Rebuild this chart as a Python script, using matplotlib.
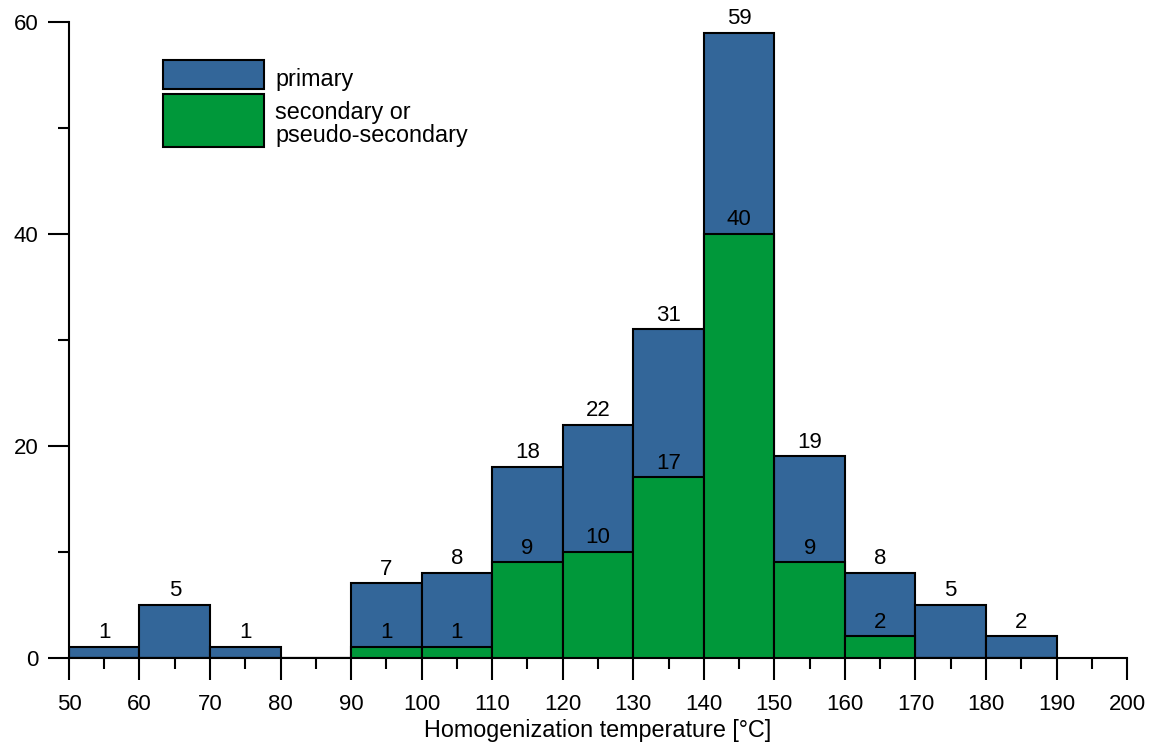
import matplotlib.pyplot as plt
import numpy as np
from matplotlib.patches import Rectangle
from matplotlib.ticker import MultipleLocator

plt.rcParams["font.family"] = ["Liberation Sans", "DejaVu Sans"]

# bin left edges [°C], bin width 10
bin_left = [50, 60, 70, 80, 90, 100, 110, 120, 130, 140, 150, 160, 170, 180]
total_counts = [1, 5, 1, 0, 7, 8, 18, 22, 31, 59, 19, 8, 5, 2]
secondary_counts = [0, 0, 0, 0, 1, 1, 9, 10, 17, 40, 9, 2, 0, 0]

blue = "#336699"
green = "#00983a"

fig = plt.figure(figsize=(11.53, 7.45), dpi=100)
ax = fig.add_axes([0.0598, 0.1174, 0.9177, 0.853])

x = np.array(bin_left)
ax.bar(x, total_counts, width=10, align="edge", color=blue, edgecolor="black", linewidth=1.5, zorder=2)
ax.bar(x, secondary_counts, width=10, align="edge", color=green, edgecolor="black", linewidth=1.5, zorder=3)

for xi, t, s in zip(x, total_counts, secondary_counts):
    if t > 0:
        ax.annotate(str(t), (xi + 5, t), xytext=(0, 2.5), textcoords="offset points",
                    ha="center", va="bottom", fontsize=16, zorder=4)
    if s > 0:
        ax.annotate(str(s), (xi + 5, s), xytext=(0, 2.5), textcoords="offset points",
                    ha="center", va="bottom", fontsize=16, zorder=4)

ax.set_xlim(50, 200)
ax.set_ylim(0, 60)
for side in ["top", "right"]:
    ax.spines[side].set_visible(False)
ax.spines["left"].set_linewidth(1.5)
ax.spines["bottom"].set_linewidth(1.5)

ax.xaxis.set_major_locator(MultipleLocator(10))
ax.xaxis.set_minor_locator(MultipleLocator(5))
ax.yaxis.set_major_locator(MultipleLocator(20))
ax.yaxis.set_minor_locator(MultipleLocator(10))
ax.tick_params(axis="both", which="major", direction="out", length=16, width=1.5, labelsize=16)
ax.tick_params(axis="both", which="minor", direction="out", length=8, width=1.5)
ax.tick_params(axis="x", which="major", pad=10)
ax.tick_params(axis="y", which="major", length=15, pad=7)

ax.set_xlabel("Homogenization temperature [°C]", fontsize=16.8, labelpad=3)

# hand-drawn legend with a taller swatch for the two-line entry
ax.add_patch(Rectangle((0.0888, 0.895), 0.0955, 0.0457, transform=ax.transAxes,
                       facecolor=blue, edgecolor="black", linewidth=1.5, clip_on=False))
ax.add_patch(Rectangle((0.0888, 0.8039), 0.0955, 0.0835, transform=ax.transAxes,
                       facecolor=green, edgecolor="black", linewidth=1.5, clip_on=False))
ax.text(0.1947, 0.909, "primary", transform=ax.transAxes, fontsize=16.8, va="center")
ax.text(0.1947, 0.840, "secondary or\npseudo-secondary", transform=ax.transAxes,
        fontsize=16.8, va="center", linespacing=1.0)

fig.savefig("out.png", dpi=100)
